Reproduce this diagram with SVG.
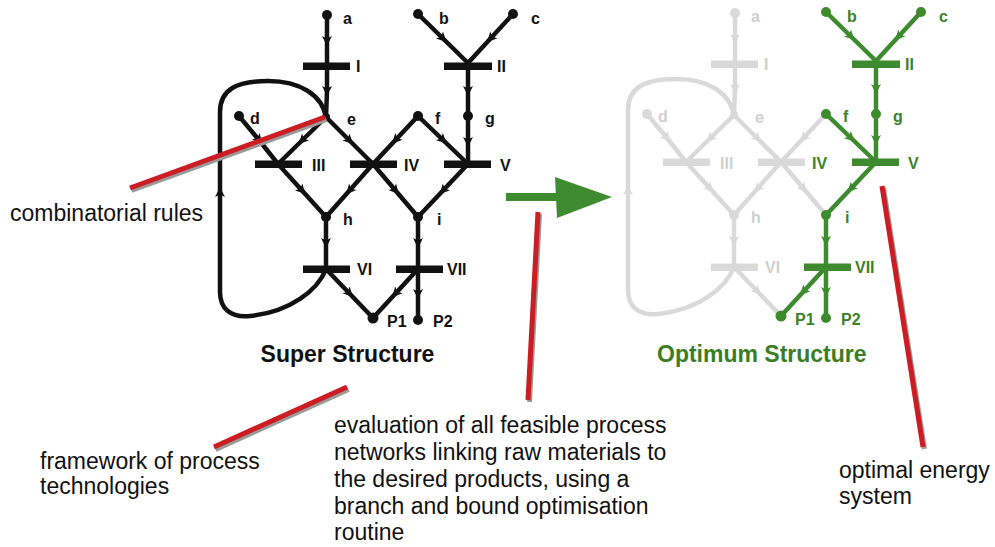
<svg xmlns="http://www.w3.org/2000/svg" width="995" height="547" viewBox="0 0 995 547">
  <style>
    .txt { font-family: "Liberation Sans", Arial, sans-serif; font-size: 23px; fill: #111; }
    .title { font-family: "Liberation Sans", Arial, sans-serif; font-size: 23px; font-weight: bold; }
    .lbl { font-family: "Liberation Sans", Arial, sans-serif; font-size: 16px; font-weight: bold; }
    .e-k { fill: none; stroke: #111; stroke-width: 4.5; stroke-linejoin: round; marker-mid: url(#arr-k); }
    .e-g { fill: none; stroke: #d9d9d9; stroke-width: 4.5; stroke-linejoin: round; marker-mid: url(#arr-g); }
    .e-n { fill: none; stroke: #3e8a2f; stroke-width: 4.5; stroke-linejoin: round; marker-mid: url(#arr-n); }
    .loop-k { fill: none; stroke: #111; stroke-width: 4.5; }
    .loop-g { fill: none; stroke: #d9d9d9; stroke-width: 4.5; }
    .k { fill: #111; }
    .g { fill: #d9d9d9; }
    .n { fill: #3e8a2f; }
    .lk { fill: #111; }
    .lg { fill: #cfcfcf; }
    .ln { fill: #3b8229; }
    .red { stroke: #cc1c24; stroke-width: 5; stroke-linecap: butt; }
    .shade { stroke: #9a9a9a; stroke-width: 5; stroke-linecap: butt; }
  </style>
  <defs>
    <marker id="arr-k" viewBox="-6 -6 12 12" markerWidth="12" markerHeight="12" markerUnits="userSpaceOnUse" orient="auto">
      <path d="M-5,-5 L5,0 L-5,5 L-2.5,0 Z" fill="#111"/>
    </marker>
    <marker id="arr-g" viewBox="-6 -6 12 12" markerWidth="12" markerHeight="12" markerUnits="userSpaceOnUse" orient="auto">
      <path d="M-5,-5 L5,0 L-5,5 L-2.5,0 Z" fill="#d9d9d9"/>
    </marker>
    <marker id="arr-n" viewBox="-6 -6 12 12" markerWidth="12" markerHeight="12" markerUnits="userSpaceOnUse" orient="auto">
      <path d="M-5,-5 L5,0 L-5,5 L-2.5,0 Z" fill="#3e8a2f"/>
    </marker>
  </defs>

  <rect width="995" height="547" fill="#ffffff"/>

  <!-- ===== Super structure (all candidate units) ===== -->
  <g id="super-structure">
    <g id="ss-connectors">
      <path class="e-k" d="M327,15 L327,41 L327,66"/>
      <path class="e-k" d="M327,66 L327,91 L326,117"/>
      <path class="e-k" d="M418,14 L443,38.5 L468,63"/>
      <path class="e-k" d="M513,14 L490.5,38.5 L468,63"/>
      <path class="e-k" d="M468,66 L468,91 L468,116"/>
      <path class="e-k" d="M468,116 L468,142 L468,164"/>
      <path class="e-k" d="M239,116 L259,140 L278,164"/>
      <path class="e-k" d="M326,117 L302,140.5 L278,164"/>
      <path class="e-k" d="M326,117 L349.5,140.5 L373,164"/>
      <path class="e-k" d="M418,116 L395.5,140 L373,164"/>
      <path class="e-k" d="M418,116 L443,140 L468,164"/>
      <path class="e-k" d="M278,164 L302,190.5 L326,217"/>
      <path class="e-k" d="M373,164 L349.5,190.5 L326,217"/>
      <path class="e-k" d="M373,164 L395.5,190.5 L418,217"/>
      <path class="e-k" d="M468,164 L443,190.5 L418,217"/>
      <path class="e-k" d="M326,217 L326,243 L326,269"/>
      <path class="e-k" d="M418,217 L418,243 L418,269"/>
      <path class="e-k" d="M326,269 L349.5,293.5 L373,318"/>
      <path class="e-k" d="M418,269 L395.5,293.5 L373,318"/>
      <path class="e-k" d="M418,269 L418,294 L418,320"/>
      <!-- recycle loop from VI back to e -->
      <path class="loop-k" d="M326,269 C318,290 290,312 250,316 C230,318 220,308 220,292 L220,192" marker-end="url(#arr-k)"/>
      <path class="loop-k" d="M220,192 L220,112 C220,90 236,81 268,81 C300,81 322,95 326,117"/>
    </g>
    <g id="ss-a"><circle class="k" cx="327" cy="15" r="5"/><text class="lbl lk" x="343" y="24">a</text></g>
    <g id="ss-b"><circle class="k" cx="418" cy="14" r="5"/><text class="lbl lk" x="439" y="24">b</text></g>
    <g id="ss-c"><circle class="k" cx="513" cy="14" r="5"/><text class="lbl lk" x="531" y="24">c</text></g>
    <g id="ss-I"><rect class="k" x="303" y="62.5" width="47" height="7.5"/><text class="lbl lk" x="356" y="72">I</text></g>
    <g id="ss-II"><rect class="k" x="444" y="62.5" width="48" height="7.5"/><text class="lbl lk" x="497" y="72">II</text></g>
    <g id="ss-d"><circle class="k" cx="239" cy="116" r="5"/><text class="lbl lk" x="250" y="124">d</text></g>
    <g id="ss-e"><circle class="k" cx="326" cy="117" r="4"/><text class="lbl lk" x="347" y="125">e</text></g>
    <g id="ss-f"><circle class="k" cx="418" cy="116" r="5"/><text class="lbl lk" x="435" y="124">f</text></g>
    <g id="ss-g"><circle class="k" cx="468" cy="116" r="5"/><text class="lbl lk" x="485" y="124">g</text></g>
    <g id="ss-III"><rect class="k" x="255" y="160.5" width="47" height="7.5"/><text class="lbl lk" x="312" y="171">III</text></g>
    <g id="ss-IV"><rect class="k" x="350" y="160.5" width="47" height="7.5"/><text class="lbl lk" x="404" y="171">IV</text></g>
    <g id="ss-V"><rect class="k" x="444" y="160.5" width="47" height="7.5"/><text class="lbl lk" x="500" y="171">V</text></g>
    <g id="ss-h"><circle class="k" cx="326" cy="217" r="5"/><text class="lbl lk" x="343" y="225">h</text></g>
    <g id="ss-i"><circle class="k" cx="418" cy="217" r="5"/><text class="lbl lk" x="437" y="225">i</text></g>
    <g id="ss-VI"><rect class="k" x="303" y="265.5" width="47" height="7.5"/><text class="lbl lk" x="357" y="275">VI</text></g>
    <g id="ss-VII"><rect class="k" x="396" y="265.5" width="47" height="7.5"/><text class="lbl lk" x="447" y="275">VII</text></g>
    <g id="ss-P1"><circle class="k" cx="373" cy="318" r="5.5"/><text class="lbl lk" x="387" y="327">P1</text></g>
    <g id="ss-P2"><circle class="k" cx="418" cy="320" r="5"/><text class="lbl lk" x="433" y="327">P2</text></g>
    <text class="title lk" x="347.5" y="362" text-anchor="middle">Super Structure</text>
  </g>

  <!-- ===== Optimum structure (selected units in green) ===== -->
  <g id="optimum-structure" transform="translate(408,-2)">
    <g id="os-connectors">
      <!-- unused candidates -->
      <path class="e-g" d="M327,15 L327,41 L327,66"/>
      <path class="e-g" d="M327,66 L327,91 L326,117"/>
      <path class="e-g" d="M239,116 L259,140 L278,164"/>
      <path class="e-g" d="M326,117 L302,140.5 L278,164"/>
      <path class="e-g" d="M326,117 L349.5,140.5 L373,164"/>
      <path class="e-g" d="M418,116 L395.5,140 L373,164"/>
      <path class="e-g" d="M278,164 L302,190.5 L326,217"/>
      <path class="e-g" d="M373,164 L349.5,190.5 L326,217"/>
      <path class="e-g" d="M373,164 L395.5,190.5 L418,217"/>
      <path class="e-g" d="M326,217 L326,243 L326,269"/>
      <path class="e-g" d="M326,269 L349.5,293.5 L373,318"/>
      <path class="loop-g" d="M326,269 C318,290 290,312 250,316 C230,318 220,308 220,292 L220,192" marker-end="url(#arr-g)"/>
      <path class="loop-g" d="M220,192 L220,112 C220,90 236,81 268,81 C300,81 322,95 326,117"/>
      <!-- selected path -->
      <path class="e-n" d="M418,14 L443,38.5 L468,63"/>
      <path class="e-n" d="M513,14 L490.5,38.5 L468,63"/>
      <path class="e-n" d="M468,66 L468,91 L468,116"/>
      <path class="e-n" d="M468,116 L468,142 L468,164"/>
      <path class="e-n" d="M418,116 L443,140 L468,164"/>
      <path class="e-n" d="M468,164 L443,190.5 L418,217"/>
      <path class="e-n" d="M418,217 L418,243 L418,269"/>
      <path class="e-n" d="M418,269 L395.5,293.5 L373,318"/>
      <path class="e-n" d="M418,269 L418,294 L418,320"/>
    </g>
    <g id="os-a"><circle class="g" cx="327" cy="15" r="5"/><text class="lbl lg" x="343" y="24">a</text></g>
    <g id="os-I"><rect class="g" x="303" y="62.5" width="47" height="7.5"/><text class="lbl lg" x="356" y="72">I</text></g>
    <g id="os-d"><circle class="g" cx="239" cy="116" r="5"/><text class="lbl lg" x="250" y="124">d</text></g>
    <g id="os-e"><circle class="g" cx="326" cy="117" r="4"/><text class="lbl lg" x="347" y="125">e</text></g>
    <g id="os-III"><rect class="g" x="255" y="160.5" width="47" height="7.5"/><text class="lbl lg" x="312" y="171">III</text></g>
    <g id="os-IV"><rect class="g" x="350" y="160.5" width="47" height="7.5"/><text class="lbl ln" x="404" y="171">IV</text></g>
    <g id="os-h"><circle class="g" cx="326" cy="217" r="5"/><text class="lbl lg" x="343" y="225">h</text></g>
    <g id="os-VI"><rect class="g" x="303" y="265.5" width="47" height="7.5"/><text class="lbl lg" x="357" y="275">VI</text></g>
    <g id="os-b"><circle class="n" cx="418" cy="14" r="5"/><text class="lbl ln" x="439" y="24">b</text></g>
    <g id="os-c"><circle class="n" cx="513" cy="14" r="5"/><text class="lbl ln" x="531" y="24">c</text></g>
    <g id="os-II"><rect class="n" x="444" y="62.5" width="48" height="7.5"/><text class="lbl ln" x="497" y="72">II</text></g>
    <g id="os-f"><circle class="n" cx="418" cy="116" r="5"/><text class="lbl ln" x="435" y="124">f</text></g>
    <g id="os-g"><circle class="n" cx="468" cy="116" r="5"/><text class="lbl ln" x="485" y="124">g</text></g>
    <g id="os-V"><rect class="n" x="444" y="160.5" width="47" height="7.5"/><text class="lbl ln" x="500" y="171">V</text></g>
    <g id="os-i"><circle class="n" cx="418" cy="217" r="5"/><text class="lbl ln" x="437" y="225">i</text></g>
    <g id="os-VII"><rect class="n" x="396" y="265.5" width="47" height="7.5"/><text class="lbl ln" x="447" y="275">VII</text></g>
    <g id="os-P1"><circle class="n" cx="373" cy="318" r="5.5"/><text class="lbl ln" x="387" y="327">P1</text></g>
    <g id="os-P2"><circle class="n" cx="418" cy="320" r="5"/><text class="lbl ln" x="433" y="327">P2</text></g>
  </g>
  <text class="title" x="657" y="362" fill="#3b7d22">Optimum Structure</text>

  <!-- transition arrow between the two structures -->
  <g id="transition-arrow" fill="#3f8c30">
    <rect x="506" y="193" width="54" height="8"/>
    <polygon points="555,177 612,197 557,218"/>
  </g>

  <!-- callout lines with drop shadow -->
  <g id="callouts">
    <line class="shade" x1="131.5" y1="190.5" x2="326.5" y2="119.5"/>
    <line class="red" x1="130" y1="188" x2="325" y2="117"/>
    <line class="shade" x1="215.5" y1="449.5" x2="348.5" y2="389.5"/>
    <line class="red" x1="214" y1="447" x2="347" y2="387"/>
    <line class="shade" x1="539.5" y1="214" x2="529.5" y2="402"/>
    <line class="red" x1="538" y1="212" x2="528" y2="400"/>
    <line class="shade" x1="883.5" y1="188" x2="924.5" y2="449"/>
    <line class="red" x1="882" y1="186" x2="923" y2="447"/>
  </g>

  <!-- annotations -->
  <g id="notes">
    <text class="txt" x="10" y="221">combinatorial rules</text>
    <text class="txt" x="40" y="469">framework of process</text>
    <text class="txt" x="40" y="494">technologies</text>
    <text class="txt" x="334" y="433">evaluation of all feasible process</text>
    <text class="txt" x="334" y="460">networks linking raw materials to</text>
    <text class="txt" x="334" y="487">the desired products, using a</text>
    <text class="txt" x="334" y="514">branch and bound optimisation</text>
    <text class="txt" x="334" y="540">routine</text>
    <text class="txt" x="839" y="478">optimal energy</text>
    <text class="txt" x="839" y="504">system</text>
  </g>
</svg>
